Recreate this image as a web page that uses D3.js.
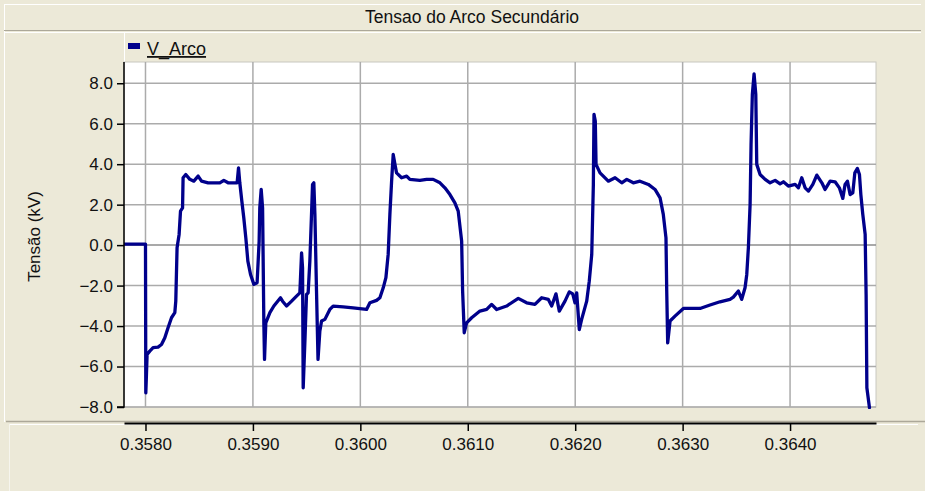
<!DOCTYPE html>
<html>
<head>
<meta charset="utf-8">
<script src="https://cdn.jsdelivr.net/npm/d3@7/dist/d3.min.js"></script>
<style>
  html, body { margin: 0; padding: 0; background: #ECE9D8; }
  svg { display: block; }
</style>
</head>
<body>
<div id="chart"></div>
<script>
// time (s) and arc voltage (kV)
const timeValues = [
  0.357800, 0.358000, 0.358003, 0.358009, 0.358015, 0.358040, 0.358071, 0.358117, 0.358149, 0.358180,
  0.358210, 0.358242, 0.358273, 0.358282, 0.358294, 0.358313, 0.358326, 0.358345, 0.358350, 0.358375,
  0.358413, 0.358450, 0.358490, 0.358522, 0.358583, 0.358692, 0.358729, 0.358769, 0.358853, 0.358866,
  0.358878, 0.358897, 0.358915, 0.358934, 0.358953, 0.358978, 0.359009, 0.359039, 0.359058, 0.359064,
  0.359077, 0.359090, 0.359102, 0.359108, 0.359120, 0.359158, 0.359195, 0.359257, 0.359276, 0.359313,
  0.359360, 0.359406, 0.359437, 0.359453, 0.359462, 0.359468, 0.359484, 0.359499, 0.359514, 0.359530,
  0.359546, 0.359555, 0.359567, 0.359577, 0.359592, 0.359606, 0.359623, 0.359639, 0.359670, 0.359716,
  0.359747, 0.359840, 0.359933, 0.360058, 0.360089, 0.360151, 0.360182, 0.360213, 0.360238, 0.360259,
  0.360275, 0.360291, 0.360306, 0.360322, 0.360337, 0.360384, 0.360431, 0.360461, 0.360554, 0.360617,
  0.360678, 0.360741, 0.360787, 0.360834, 0.360880, 0.360911, 0.360943, 0.360952, 0.360967, 0.360989,
  0.361036, 0.361113, 0.361176, 0.361222, 0.361269, 0.361362, 0.361470, 0.361548, 0.361625, 0.361688,
  0.361749, 0.361781, 0.361821, 0.361852, 0.361905, 0.361945, 0.361977, 0.361998, 0.362014, 0.362038,
  0.362060, 0.362107, 0.362131, 0.362154, 0.362169, 0.362175, 0.362187, 0.362194, 0.362231, 0.362308,
  0.362371, 0.362433, 0.362480, 0.362541, 0.362603, 0.362681, 0.362743, 0.362790, 0.362820, 0.362845,
  0.362852, 0.362861, 0.362883, 0.362929, 0.363007, 0.363162, 0.363255, 0.363348, 0.363441, 0.363472,
  0.363519, 0.363550, 0.363581, 0.363597, 0.363612, 0.363628, 0.363637, 0.363649, 0.363665, 0.363681,
  0.363690, 0.363721, 0.363768, 0.363814, 0.363861, 0.363907, 0.363938, 0.363984, 0.364047, 0.364078,
  0.364109, 0.364140, 0.364171, 0.364212, 0.364249, 0.364296, 0.364326, 0.364373, 0.364419, 0.364459,
  0.364491, 0.364512, 0.364534, 0.364559, 0.364584, 0.364603, 0.364627, 0.364646, 0.364659, 0.364677,
  0.364699, 0.364708, 0.364715, 0.364739
];

const voltageValues = [
  0.05, 0.05, -7.30, -6.39, -5.40, -5.24, -5.07, -5.04, -4.91, -4.58,
  -4.08, -3.59, -3.34, -2.77, -0.13, 0.53, 1.68, 1.84, 3.33, 3.49,
  3.25, 3.16, 3.41, 3.16, 3.08, 3.08, 3.20, 3.08, 3.08, 3.82,
  3.08, 2.17, 1.35, 0.36, -0.79, -1.45, -1.94, -1.86, 0.20, 1.84,
  2.75, 1.84, -3.92, -5.65, -3.84, -3.34, -3.01, -2.60, -2.77, -3.01,
  -2.77, -2.52, -2.36, -0.38, -1.12, -7.05, -4.74, -2.44, -2.36, -0.79,
  1.60, 3.00, 3.08, 1.52, -2.27, -5.65, -4.25, -3.75, -3.67, -3.18,
  -3.01, -3.05, -3.10, -3.18, -2.85, -2.73, -2.60, -2.11, -1.61, -0.46,
  1.52, 3.16, 4.48, 3.99, 3.57, 3.33, 3.41, 3.25, 3.20, 3.25,
  3.25, 3.08, 2.83, 2.50, 2.09, 1.68, 0.20, -2.27, -4.33, -3.84,
  -3.59, -3.26, -3.18, -2.93, -3.18, -3.01, -2.63, -2.85, -2.93, -2.60,
  -2.68, -3.01, -2.41, -3.26, -2.77, -2.31, -2.41, -2.85, -2.36, -4.17,
  -3.67, -2.77, -1.78, -0.46, 3.00, 6.46, 6.13, 3.99, 3.57, 3.16,
  3.33, 3.08, 3.25, 3.08, 3.16, 3.00, 2.75, 2.34, 1.52, 0.36,
  -2.27, -4.83, -3.75, -3.51, -3.13, -3.13, -2.96, -2.80, -2.68, -2.57,
  -2.27, -2.68, -2.11, -1.45, -0.13, 2.01, 4.97, 7.45, 8.46, 7.45,
  3.99, 3.49, 3.25, 3.08, 3.20, 3.03, 3.13, 2.92, 3.00, 2.83,
  3.33, 2.83, 2.67, 3.00, 3.46, 3.08, 2.75, 3.16, 3.13, 2.83,
  2.31, 3.00, 3.16, 2.50, 2.58, 3.57, 3.79, 3.49, 2.50, 1.52,
  0.53, -2.44, -7.05, -8.03
];

const xTickValues = [0.358, 0.359, 0.360, 0.361, 0.362, 0.363, 0.364];
const yTickValues = [-8, -6, -4, -2, 0, 2, 4, 6, 8];

const chartTitle = "Tensao do Arco Secundário";
const seriesName = "V_Arco";
const yLabel = "Tensão (kV)";

const width = 925;
const height = 491;
const plotLeft = 124;
const plotRight = 876;
const plotTop = 62;
const plotBottom = 407;
const xAxisY = 423;

const fontFamily = "'Liberation Sans', Arial, sans-serif";
const bgColor = "#ECE9D8";
const lineColor = "#00008B";

const data = timeValues.map((t, i) => ({ t, v: voltageValues[i] }));

const svg = d3
  .create("svg")
  .attr("viewBox", [0, 0, width, height])
  .attr("width", width)
  .attr("height", height)
  .style("font-family", fontFamily);

svg.append("rect")
  .attr("width", width)
  .attr("height", height)
  .attr("fill", bgColor);

// outer panel edges
svg.append("line")
  .attr("x1", 4).attr("x2", width - 4)
  .attr("y1", 4.5).attr("y2", 4.5)
  .attr("stroke", "#fff");
svg.append("line")
  .attr("x1", 4.5).attr("x2", 4.5)
  .attr("y1", 4).attr("y2", 422)
  .attr("stroke", "#fff");

// title bar
svg.append("line")
  .attr("x1", 4).attr("x2", width - 4)
  .attr("y1", 30.5).attr("y2", 30.5)
  .attr("stroke", "#ACA899");
svg.append("line")
  .attr("x1", 4).attr("x2", width - 4)
  .attr("y1", 32.5).attr("y2", 32.5)
  .attr("stroke", "#fff");

svg.append("text")
  .attr("x", 472)
  .attr("y", 23)
  .attr("text-anchor", "middle")
  .attr("font-size", 17.5)
  .attr("fill", "#111")
  .text(chartTitle);

const x = d3
  .scaleLinear()
  .domain([0.3578, 0.3648])
  .range([plotLeft, plotRight]);

const y = d3
  .scaleLinear()
  .domain([-8, 9.05])
  .range([plotBottom, plotTop]);

// legend strip
svg.append("line")
  .attr("x1", plotLeft + 0.5).attr("x2", plotLeft + 0.5)
  .attr("y1", 33).attr("y2", plotTop)
  .attr("stroke", "#fff");

const legend = svg.append("g")
  .attr("transform", `translate(${plotLeft + 4},43)`);

legend.append("rect")
  .attr("width", 12)
  .attr("height", 6)
  .attr("fill", lineColor);

legend.append("text")
  .attr("x", 19)
  .attr("y", 12)
  .attr("font-size", 18)
  .attr("fill", "#111")
  .attr("text-decoration", "underline")
  .text(seriesName);

// plot area
svg.append("rect")
  .attr("x", plotLeft)
  .attr("y", plotTop)
  .attr("width", plotRight - plotLeft)
  .attr("height", plotBottom - plotTop)
  .attr("fill", "#fff")
  .attr("stroke", "#C8C8C0")
  .attr("stroke-width", 1);

const grid = svg.append("g");

grid.selectAll("line.vgrid")
  .data(xTickValues)
  .join("line")
  .attr("class", "vgrid")
  .attr("x1", (d) => x(d))
  .attr("x2", (d) => x(d))
  .attr("y1", plotTop)
  .attr("y2", plotBottom)
  .attr("stroke", "#ABABAB")
  .attr("stroke-width", 1.5);

grid.selectAll("line.hgrid")
  .data(yTickValues)
  .join("line")
  .attr("class", "hgrid")
  .attr("x1", plotLeft)
  .attr("x2", plotRight)
  .attr("y1", (d) => y(d))
  .attr("y2", (d) => y(d))
  .attr("stroke", (d) => (d === 0 ? "#8C8C8C" : "#ABABAB"))
  .attr("stroke-width", 1.5);

svg.append("clipPath")
  .attr("id", "plot-clip")
  .append("rect")
  .attr("x", plotLeft)
  .attr("y", plotTop)
  .attr("width", plotRight - plotLeft)
  .attr("height", plotBottom - plotTop + 2);

const line = d3
  .line()
  .x((d) => x(d.t))
  .y((d) => y(d.v));

svg.append("path")
  .datum(data)
  .attr("clip-path", "url(#plot-clip)")
  .attr("fill", "none")
  .attr("stroke", lineColor)
  .attr("stroke-width", 3.3)
  .attr("stroke-linejoin", "round")
  .attr("stroke-linecap", "round")
  .attr("d", line);

// y axis
const yAxis = svg.append("g")
  .attr("transform", `translate(${plotLeft},0)`)
  .call(
    d3.axisLeft(y)
      .tickValues(yTickValues)
      .tickFormat(d3.format(".1f"))
      .tickSize(7)
      .tickPadding(4)
  );

yAxis.select(".domain")
  .attr("d", `M-7,${plotBottom}H0V${plotTop}`)
  .attr("stroke", "#000")
  .attr("stroke-width", 1.5);

yAxis.selectAll(".tick line").attr("stroke", "#000").attr("stroke-width", 1.5);
yAxis.selectAll(".tick text")
  .attr("font-size", 17)
  .attr("font-family", fontFamily)
  .attr("fill", "#111");

svg.append("text")
  .attr("transform", `translate(40,${(plotTop + plotBottom) / 2 + 2}) rotate(-90)`)
  .attr("text-anchor", "middle")
  .attr("font-size", 17)
  .attr("fill", "#111")
  .text(yLabel);

// x axis pane
svg.append("line")
  .attr("x1", 6).attr("x2", width)
  .attr("y1", 421.5).attr("y2", 421.5)
  .attr("stroke", "#ACA899")
  .attr("stroke-width", 1.5);
svg.append("line")
  .attr("x1", 9).attr("x2", 918)
  .attr("y1", 424.5).attr("y2", 424.5)
  .attr("stroke", "#fff");
svg.append("line")
  .attr("x1", 9.5).attr("x2", 9.5)
  .attr("y1", 424).attr("y2", height)
  .attr("stroke", "#F6F5EE");

const xAxis = svg.append("g")
  .attr("transform", `translate(0,${xAxisY})`)
  .call(
    d3.axisBottom(x)
      .tickValues(xTickValues)
      .tickFormat(d3.format(".4f"))
      .tickSize(8)
      .tickSizeOuter(0)
      .tickPadding(7)
  );

xAxis.select(".domain").attr("stroke", "#000").attr("stroke-width", 2);
xAxis.selectAll(".tick line").attr("stroke", "#000").attr("stroke-width", 1.5);
xAxis.selectAll(".tick text")
  .attr("font-size", 17)
  .attr("font-family", fontFamily)
  .attr("fill", "#111");

document.querySelector("#chart").appendChild(svg.node());
</script>
</body>
</html>
